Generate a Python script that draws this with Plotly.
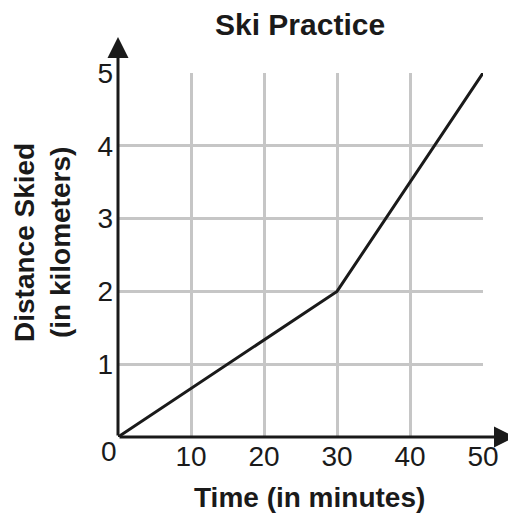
import plotly.graph_objects as go

time_min = [0, 30, 50]
distance_km = [0, 2, 5]
x_ticks = [10, 20, 30, 40, 50]
y_ticks = [1, 2, 3, 4, 5]

# page body has an 8px margin; work in screen pixels and convert
OFF = 8
W, H = 516 - OFF, 515 - OFF
SL, SR, ST, SB = 118, 483, 73, 437          # plot box in screen pixels
L, T = SL - OFF, ST - OFF
R, B = W - (SR - OFF), H - (SB - OFF)
pw, ph = SR - SL, SB - ST


def px(x):
    return (x - SL) / pw


def py(y):
    return (SB - y) / ph


ink = "#1a1a1a"
fam = "Liberation Sans, Arial, sans-serif"

fig = go.Figure()
fig.add_trace(go.Scatter(x=time_min, y=distance_km, mode="lines",
                         line=dict(color=ink, width=3),
                         hoverinfo="skip", showlegend=False, cliponaxis=False))

fig.update_layout(
    width=W, height=H,
    margin=dict(l=L, r=R, t=T, b=B, pad=0),
    paper_bgcolor="white", plot_bgcolor="white",
    font=dict(family=fam, color=ink),
    xaxis=dict(range=[0, 50], tickvals=x_ticks, showgrid=True, gridcolor="#c6c6c6",
               gridwidth=2.5, zeroline=False, showline=False, ticks="",
               tickfont=dict(size=28, family=fam, color=ink), ticklabelstandoff=0),
    yaxis=dict(range=[0, 5], tickvals=y_ticks, showgrid=True, gridcolor="#c6c6c6",
               gridwidth=2.5, zeroline=False, showline=False, ticks="",
               tickfont=dict(size=28, family=fam, color=ink), ticklabelstandoff=4),
)

# titles
fig.add_annotation(xref="paper", yref="paper", x=px(300), y=py(24),
                   text="<b>Ski Practice</b>", showarrow=False,
                   xanchor="center", yanchor="middle",
                   font=dict(size=30, family=fam, color=ink))
fig.add_annotation(xref="paper", yref="paper", x=px(309), y=py(497),
                   text="<b>Time (in minutes)</b>", showarrow=False,
                   xanchor="center", yanchor="middle",
                   font=dict(size=28, family=fam, color=ink))
fig.add_annotation(xref="paper", yref="paper", x=px(42), y=py(243),
                   text="<b>Distance Skied<br>(in kilometers)</b>", showarrow=False,
                   textangle=-90, xanchor="center", yanchor="middle",
                   font=dict(size=28, family=fam, color=ink))

# origin label
fig.add_annotation(x=0, y=0, xref="x", yref="y", text="0", showarrow=False,
                   xanchor="right", yanchor="top", xshift=1, yshift=3,
                   font=dict(size=28, family=fam, color=ink))

# axis arrows
fig.add_annotation(xref="paper", yref="paper", x=px(515), y=0,
                   ax=-(515 - SL), ay=0, axref="pixel", ayref="pixel",
                   showarrow=True, arrowhead=2, arrowsize=1.4, arrowwidth=3,
                   arrowcolor=ink, text="")
fig.add_annotation(xref="paper", yref="paper", x=0, y=py(37),
                   ax=0, ay=(SB - 37), axref="pixel", ayref="pixel",
                   showarrow=True, arrowhead=2, arrowsize=1.4, arrowwidth=3,
                   arrowcolor=ink, text="")

fig.write_html("out.html")
